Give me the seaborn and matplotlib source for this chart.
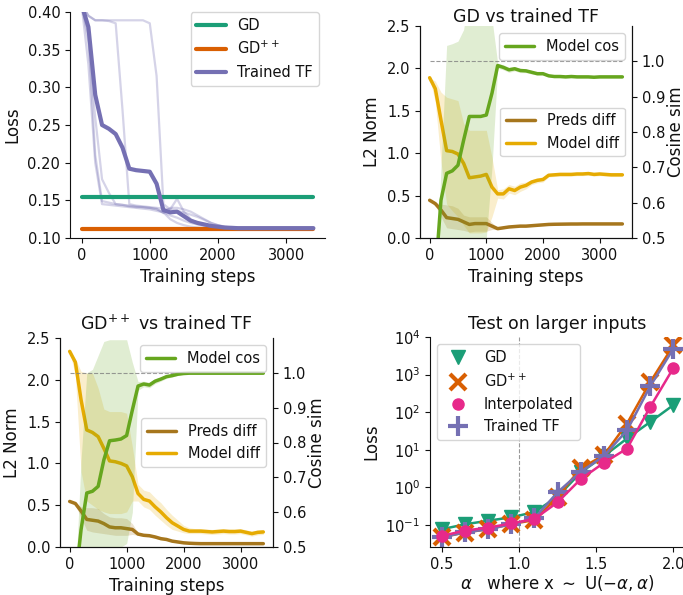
import numpy as np
import pandas as pd
import seaborn as sns
import matplotlib
matplotlib.use("Agg")
import matplotlib.pyplot as plt
from matplotlib.lines import Line2D
from matplotlib.ticker import NullLocator

""" Data read off the figure """
steps = list(range(0, 3500, 100))

# panel 1: loss during training
gd_loss = 0.155
gdpp_loss = 0.112
tf_mean = [0.41, 0.38, 0.29, 0.25, 0.245, 0.238, 0.22, 0.192, 0.19, 0.189, 0.188, 0.172,
           0.137, 0.134, 0.135, 0.129, 0.123, 0.12, 0.118, 0.116, 0.115, 0.1138, 0.1135,
           0.113, 0.113, 0.113, 0.113, 0.113, 0.113, 0.113, 0.113, 0.113, 0.113, 0.113, 0.113]
tf_run1 = [0.41, 0.33, 0.20, 0.145, 0.144, 0.143, 0.142, 0.141, 0.140, 0.139, 0.138, 0.136,
           0.134, 0.130, 0.127, 0.123, 0.120, 0.118, 0.116, 0.115, 0.114, 0.113, 0.113,
           0.113, 0.113, 0.113, 0.113, 0.113, 0.113, 0.113, 0.113, 0.113, 0.113, 0.113, 0.113]
tf_run2 = [0.41, 0.36, 0.26, 0.178, 0.160, 0.145, 0.144, 0.143, 0.142, 0.141, 0.140, 0.138,
           0.134, 0.125, 0.120, 0.117, 0.115, 0.114, 0.113, 0.113, 0.113, 0.113, 0.113,
           0.113, 0.113, 0.113, 0.113, 0.113, 0.113, 0.113, 0.113, 0.113, 0.113, 0.113, 0.113]
tf_run3 = [0.41, 0.395, 0.389, 0.389, 0.388, 0.385, 0.27, 0.145, 0.143, 0.142, 0.141, 0.140,
           0.139, 0.138, 0.136, 0.134, 0.131, 0.128, 0.124, 0.120, 0.117, 0.115, 0.114,
           0.114, 0.114, 0.114, 0.114, 0.114, 0.114, 0.114, 0.114, 0.114, 0.114, 0.114, 0.114]
tf_run4 = [0.41, 0.395, 0.389, 0.389, 0.389, 0.389, 0.389, 0.389, 0.389, 0.389, 0.385, 0.315,
           0.145, 0.138, 0.152, 0.135, 0.125, 0.120, 0.117, 0.115, 0.114, 0.114, 0.114,
           0.114, 0.114, 0.114, 0.114, 0.114, 0.114, 0.114, 0.114, 0.114, 0.114, 0.114, 0.114]
tf_run5 = [0.41, 0.37, 0.21, 0.149, 0.147, 0.145, 0.144, 0.142, 0.141, 0.141, 0.140, 0.139,
           0.133, 0.140, 0.140, 0.138, 0.135, 0.130, 0.125, 0.120, 0.117, 0.115, 0.114,
           0.114, 0.114, 0.114, 0.114, 0.114, 0.114, 0.114, 0.114, 0.114, 0.114, 0.114, 0.114]

# panel 2: GD vs trained TF
gd_cos = [0.20, 0.39, 0.607, 0.683, 0.69, 0.706, 0.777, 0.844, 0.844, 0.844, 0.848, 0.91,
          0.988, 0.983, 0.976, 0.979, 0.974, 0.973, 0.969, 0.965, 0.965, 0.959, 0.957,
          0.957, 0.956, 0.957, 0.956, 0.956, 0.956, 0.955, 0.956, 0.956, 0.956, 0.956, 0.956]
gd_cos_lo = [0.0, 0.1, 0.2, 0.3, 0.35, 0.4, 0.45, 0.47, 0.48, 0.49, 0.5, 0.7,
             0.981, 0.976, 0.969, 0.973, 0.968, 0.968, 0.964, 0.961, 0.962, 0.956, 0.954,
             0.954, 0.953, 0.954, 0.953, 0.953, 0.953, 0.952, 0.953, 0.953, 0.953, 0.953, 0.953]
gd_cos_hi = [0.2, 0.3, 0.7, 1.045, 1.05, 1.057, 1.09, 1.2, 1.2, 1.2, 1.2, 1.12,
             0.995, 0.99, 0.983, 0.985, 0.98, 0.978, 0.974, 0.969, 0.968, 0.962, 0.96,
             0.96, 0.959, 0.96, 0.959, 0.959, 0.959, 0.958, 0.959, 0.959, 0.959, 0.959, 0.959]
gd_model = [1.89, 1.76, 1.39, 1.03, 1.02, 0.99, 0.88, 0.71, 0.72, 0.73, 0.75, 0.60,
            0.52, 0.52, 0.58, 0.56, 0.60, 0.62, 0.66, 0.68, 0.69, 0.74, 0.745,
            0.75, 0.75, 0.75, 0.755, 0.755, 0.76, 0.75, 0.755, 0.75, 0.745, 0.745, 0.745]
gd_model_lo = [1.89, 1.6, 0.9, 0.40, 0.32, 0.25, 0.15, 0.06, 0.06, 0.06, 0.07, 0.25,
               0.47, 0.46, 0.53, 0.51, 0.55, 0.58, 0.63, 0.65, 0.66, 0.72, 0.725,
               0.73, 0.73, 0.73, 0.735, 0.735, 0.74, 0.73, 0.735, 0.73, 0.725, 0.725, 0.725]
gd_model_hi = [1.89, 1.85, 1.72, 1.66, 1.64, 1.62, 1.35, 1.27, 1.27, 1.27, 1.27, 0.95,
               0.57, 0.58, 0.63, 0.61, 0.65, 0.66, 0.69, 0.71, 0.72, 0.76, 0.765,
               0.77, 0.77, 0.77, 0.775, 0.775, 0.78, 0.77, 0.775, 0.77, 0.765, 0.765, 0.765]
gd_preds = [0.445, 0.405, 0.33, 0.24, 0.23, 0.22, 0.19, 0.16, 0.17, 0.17, 0.17, 0.14,
            0.11, 0.12, 0.13, 0.135, 0.14, 0.14, 0.145, 0.15, 0.155, 0.16, 0.162,
            0.163, 0.164, 0.165, 0.165, 0.166, 0.166, 0.166, 0.166, 0.166, 0.166, 0.166, 0.166]
gd_preds_lo = [0.445, 0.38, 0.25, 0.12, 0.11, 0.10, 0.09, 0.07, 0.08, 0.08, 0.08, 0.10,
               0.10, 0.11, 0.12, 0.125, 0.13, 0.13, 0.135, 0.14, 0.145, 0.15, 0.152,
               0.153, 0.154, 0.155, 0.155, 0.156, 0.156, 0.156, 0.156, 0.156, 0.156, 0.156, 0.156]
gd_preds_hi = [0.445, 0.42, 0.40, 0.39, 0.38, 0.35, 0.27, 0.25, 0.25, 0.25, 0.25, 0.18,
               0.12, 0.13, 0.14, 0.145, 0.15, 0.15, 0.155, 0.16, 0.165, 0.17, 0.172,
               0.173, 0.174, 0.175, 0.175, 0.176, 0.176, 0.176, 0.176, 0.176, 0.176, 0.176, 0.176]

# panel 3: GD++ vs trained TF
pp_cos = [0.2, 0.40, 0.55, 0.655, 0.66, 0.674, 0.75, 0.805, 0.807, 0.81, 0.82, 0.893,
          0.962, 0.968, 0.965, 0.976, 0.982, 0.989, 0.992, 0.996, 0.998, 0.999, 0.999,
          0.999, 0.999, 0.999, 0.999, 0.999, 0.999, 0.999, 0.999, 0.999, 0.999, 0.999, 0.999]
pp_cos_lo = [0.0, 0.1, 0.2, 0.3, 0.35, 0.42, 0.5, 0.5, 0.5, 0.5, 0.51, 0.6,
             0.95, 0.96, 0.957, 0.969, 0.976, 0.984, 0.988, 0.993, 0.996, 0.997, 0.997,
             0.997, 0.997, 0.997, 0.997, 0.997, 0.997, 0.997, 0.997, 0.997, 0.997, 0.997, 0.997]
pp_cos_hi = [0.2, 0.4, 0.75, 1.0, 1.01, 1.05, 1.09, 1.095, 1.095, 1.095, 1.095, 1.03,
             0.975, 0.976, 0.973, 0.983, 0.988, 0.994, 0.996, 0.999, 1.0, 1.001, 1.001,
             1.001, 1.001, 1.001, 1.001, 1.001, 1.001, 1.001, 1.001, 1.001, 1.001, 1.001, 1.001]
pp_model = [2.34, 2.21, 1.76, 1.40, 1.37, 1.32, 1.18, 1.03, 1.02, 1.00, 0.97, 0.84,
            0.64, 0.57, 0.55, 0.48, 0.42, 0.35, 0.29, 0.25, 0.21, 0.19, 0.19,
            0.19, 0.185, 0.18, 0.185, 0.19, 0.185, 0.185, 0.19, 0.175, 0.16, 0.175, 0.18]
pp_model_lo = [2.34, 2.05, 0.9, 0.55, 0.5, 0.45, 0.42, 0.40, 0.40, 0.40, 0.42, 0.55,
               0.55, 0.48, 0.45, 0.38, 0.32, 0.26, 0.21, 0.19, 0.17, 0.16, 0.16,
               0.16, 0.155, 0.15, 0.155, 0.16, 0.155, 0.155, 0.16, 0.145, 0.13, 0.145, 0.15]
pp_model_hi = [2.34, 2.25, 2.1, 2.08, 2.08, 1.9, 1.65, 1.62, 1.62, 1.62, 1.6, 1.2,
               0.75, 0.68, 0.66, 0.59, 0.53, 0.45, 0.38, 0.32, 0.26, 0.23, 0.22,
               0.22, 0.215, 0.21, 0.215, 0.22, 0.215, 0.215, 0.22, 0.205, 0.19, 0.205, 0.21]
pp_preds = [0.545, 0.52, 0.43, 0.33, 0.32, 0.31, 0.28, 0.24, 0.23, 0.23, 0.22, 0.21,
            0.155, 0.14, 0.135, 0.12, 0.10, 0.09, 0.07, 0.06, 0.05, 0.045, 0.042,
            0.04, 0.04, 0.04, 0.04, 0.04, 0.04, 0.04, 0.04, 0.04, 0.04, 0.04, 0.04]
pp_preds_lo = [0.545, 0.5, 0.35, 0.2, 0.18, 0.17, 0.16, 0.15, 0.14, 0.14, 0.14, 0.15,
               0.14, 0.125, 0.12, 0.105, 0.085, 0.08, 0.06, 0.05, 0.04, 0.035, 0.034,
               0.032, 0.032, 0.032, 0.032, 0.032, 0.032, 0.032, 0.032, 0.032, 0.032, 0.032, 0.032]
pp_preds_hi = [0.545, 0.53, 0.48, 0.47, 0.47, 0.46, 0.40, 0.36, 0.35, 0.35, 0.34, 0.28,
               0.17, 0.155, 0.15, 0.135, 0.115, 0.10, 0.08, 0.07, 0.06, 0.055, 0.05,
               0.048, 0.048, 0.048, 0.048, 0.048, 0.048, 0.048, 0.048, 0.048, 0.048, 0.048, 0.048]

# panel 4: test on larger inputs
alphas = [0.5, 0.65, 0.8, 0.95, 1.1, 1.25, 1.4, 1.55, 1.7, 1.85, 2.0]
test_gd = [0.077, 0.104, 0.13, 0.16, 0.22, 0.56, 2.5, 6.8, 20, 55, 155]
test_gdpp = [0.047, 0.063, 0.077, 0.106, 0.135, 0.56, 3.2, 7.2, 50, 630, 6000]
test_interp = [0.051, 0.071, 0.085, 0.11, 0.144, 0.40, 1.66, 4.5, 10.8, 138, 1500]
test_tf = [0.047, 0.064, 0.077, 0.104, 0.15, 0.74, 2.6, 6.8, 33, 490, 4900]

c_gd, c_gdpp, c_tf, c_int, c_cos, c_model, c_preds = sns.color_palette("Dark2", 7)

sns.set_style("ticks")
plt.rcParams['font.family'] = ['DejaVu Sans']
plt.rcParams['xtick.labelsize'] = 10.5
plt.rcParams['ytick.labelsize'] = 10.5
plt.rcParams['axes.labelsize'] = 12
plt.rcParams['axes.titlesize'] = 12.5
plt.rcParams['legend.fontsize'] = 10.5
for key in ['text.color', 'axes.labelcolor', 'xtick.color', 'ytick.color', 'axes.edgecolor']:
    plt.rcParams[key] = '#111111'

W, H = 683, 595
fig = plt.figure(figsize=(W / 100, H / 100), dpi=100)


def box(l, t, r, b):
    return [l / W, 1 - b / H, (r - l) / W, (b - t) / H]


""" Loss panel """
ax1 = fig.add_axes(box(70, 12, 325, 238))
for run in [tf_run1, tf_run2, tf_run3, tf_run4, tf_run5]:
    sns.lineplot(x=steps, y=run, ax=ax1, color=c_tf, alpha=0.3, lw=1.6)
sns.lineplot(x=steps, y=[gd_loss] * len(steps), ax=ax1, color=c_gd, lw=3, label="GD")
sns.lineplot(x=steps, y=[gdpp_loss] * len(steps), ax=ax1, color=c_gdpp, lw=3, label="GD$^{++}$")
sns.lineplot(x=steps, y=tf_mean, ax=ax1, color=c_tf, lw=3, label="Trained TF")
ax1.set_ylim(0.10, 0.40)
ax1.set_xticks([0, 1000, 2000, 3000])
ax1.set_xlabel("Training steps")
ax1.set_ylabel("Loss")
ax1.legend(loc="upper right", bbox_to_anchor=(0.975, 1.0), borderaxespad=0)
sns.despine(ax=ax1)


def compare_panel(rect, title, cos, cos_lo, cos_hi, model, model_lo, model_hi,
                  preds, preds_lo, preds_hi, pad):
    ax = fig.add_axes(box(*rect))
    ax.fill_between(steps, preds_lo, preds_hi, color=c_preds, alpha=0.2, lw=0)
    ax.fill_between(steps, model_lo, model_hi, color=c_model, alpha=0.2, lw=0)
    sns.lineplot(x=steps, y=preds, ax=ax, color=c_preds, lw=2.5, label="Preds diff")
    sns.lineplot(x=steps, y=model, ax=ax, color=c_model, lw=2.5, label="Model diff")
    ax.set_ylim(0, 2.5)
    ax.set_xticks([0, 1000, 2000, 3000])
    ax.set_xlabel("Training steps")
    ax.set_ylabel("L2 Norm")
    ax.legend(loc="center right")
    ax.set_title(title, pad=pad)
    ax.spines["top"].set_visible(False)

    ax2 = ax.twinx()
    ax2.fill_between(steps, cos_lo, cos_hi, color=c_cos, alpha=0.2, lw=0)
    ax2.hlines(1.0, 0, 3400, colors="grey", linestyles="--", lw=0.8, alpha=0.8)
    sns.lineplot(x=steps, y=cos, ax=ax2, color=c_cos, lw=2.5, label="Model cos")
    ax2.set_ylim(0.5, 1.1)
    ax2.set_yticks([0.5, 0.6, 0.7, 0.8, 0.9, 1.0])
    ax2.set_ylabel("Cosine sim", labelpad=1)
    ax2.legend(loc="upper right")
    ax2.spines["top"].set_visible(False)
    return ax, ax2


compare_panel((420, 26, 632, 238), "GD vs trained TF", gd_cos, gd_cos_lo, gd_cos_hi,
              gd_model, gd_model_lo, gd_model_hi, gd_preds, gd_preds_lo, gd_preds_hi, 3)
compare_panel((60, 338, 273, 547), "GD$^{++}$ vs trained TF", pp_cos, pp_cos_lo, pp_cos_hi,
              pp_model, pp_model_lo, pp_model_hi, pp_preds, pp_preds_lo, pp_preds_hi, 6)

""" Larger inputs panel """
ax4 = fig.add_axes(box(430, 337, 685, 547))
ax4.axvline(1.0, color="grey", ls="--", lw=0.8, alpha=0.8)
sns.lineplot(x=alphas, y=test_gd, ax=ax4, color=c_gd, lw=1.8, marker="v",
             markersize=10, mec=c_gd, mew=1)
sns.lineplot(x=alphas, y=test_gdpp, ax=ax4, color=c_gdpp, lw=1.8, marker="x",
             markersize=12, mec=c_gdpp, mew=3)
sns.lineplot(x=alphas, y=test_tf, ax=ax4, color=c_tf, lw=1.8, marker="+",
             markersize=15, mec=c_tf, mew=3)
sns.lineplot(x=alphas, y=test_interp, ax=ax4, color=c_int, lw=1.8, marker="o",
             markersize=8, mec=c_int, mew=1)
ax4.set_yscale("log")
ax4.set_ylim(10 ** -1.585, 1e4)
ax4.yaxis.set_minor_locator(NullLocator())
ax4.set_xticks([0.5, 1.0, 1.5, 2.0])
ax4.set_xlabel(r"$\alpha$   where x $\sim$ U($-\alpha, \alpha$)", labelpad=1)
ax4.set_ylabel("Loss")
ax4.set_title("Test on larger inputs")
handles = [
    Line2D([], [], ls="none", marker="v", markersize=10, color=c_gd),
    Line2D([], [], ls="none", marker="x", markersize=12, mew=3, color=c_gdpp),
    Line2D([], [], ls="none", marker="o", markersize=8, color=c_int),
    Line2D([], [], ls="none", marker="+", markersize=15, mew=3, color=c_tf),
]
ax4.legend(handles, ["GD", "GD$^{++}$", "Interpolated", "Trained TF"], loc="upper left")
sns.despine(ax=ax4)

fig.savefig("out.png", dpi=100)
